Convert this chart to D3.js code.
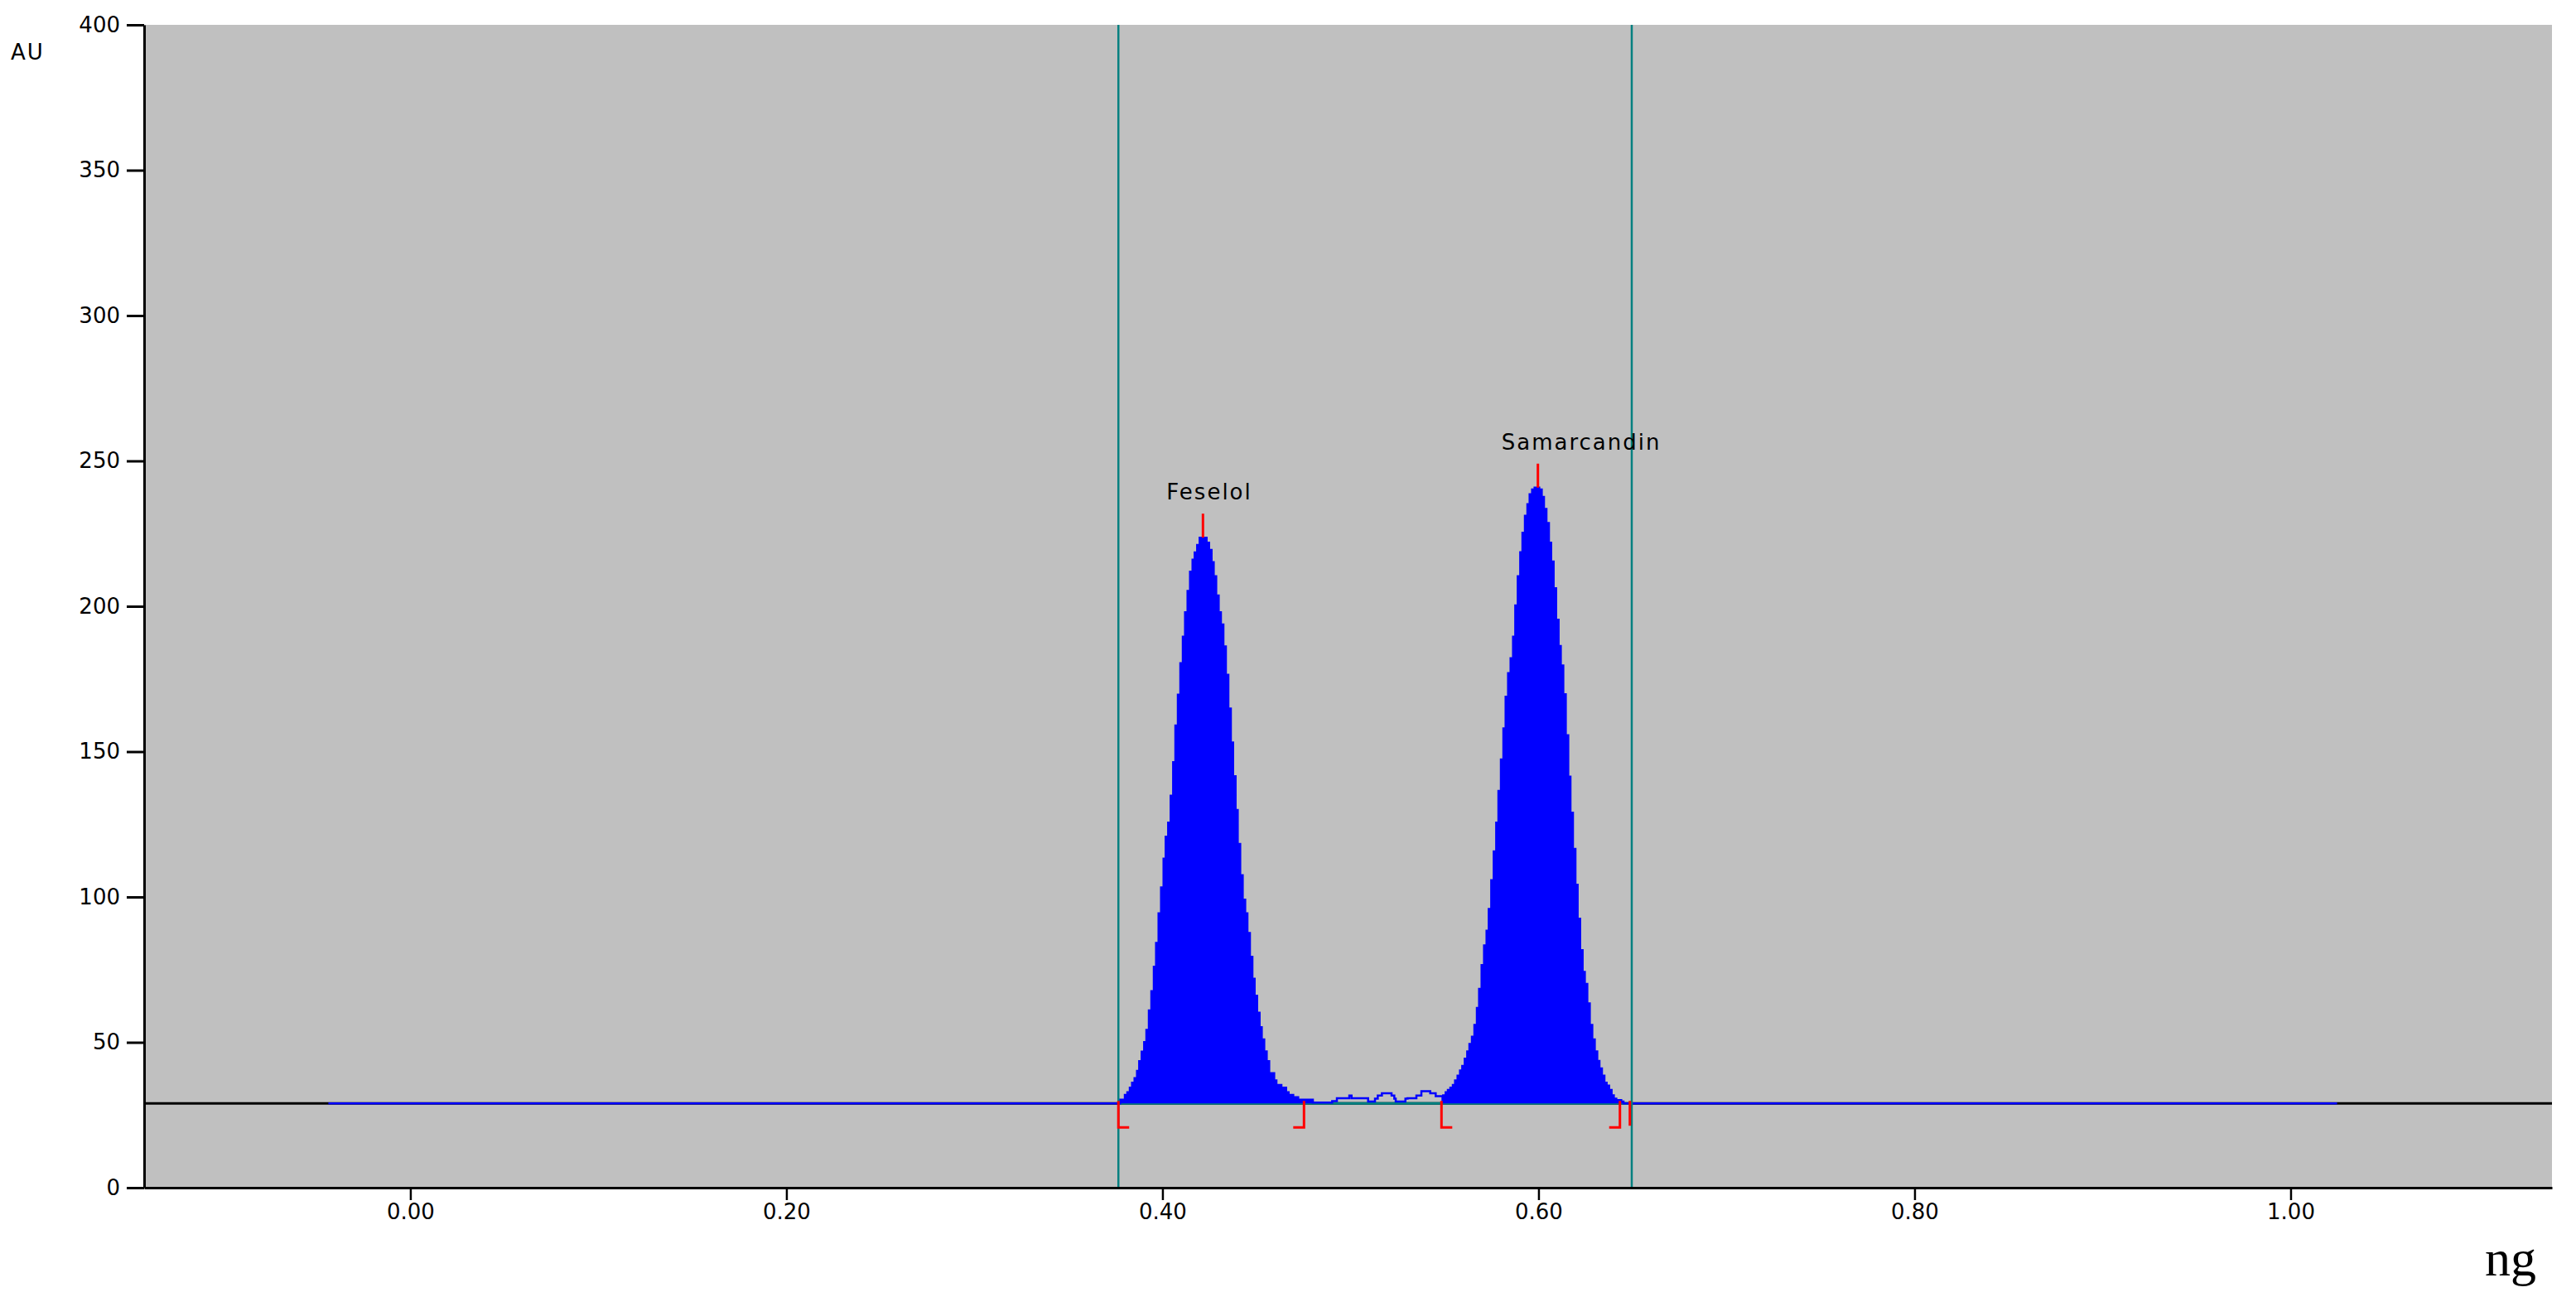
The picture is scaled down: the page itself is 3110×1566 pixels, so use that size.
<!DOCTYPE html>
<html>
<head>
<meta charset="utf-8">
<script src="https://cdn.jsdelivr.net/npm/d3@7"></script>
<style>
  html, body { margin: 0; padding: 0; background: #ffffff; }
  svg { display: block; }
</style>
</head>
<body>
<svg id="chart" width="3110" height="1566"></svg>
<script>
// ---------------- DATA ----------------
const yTicks = [0, 50, 100, 150, 200, 250, 300, 350, 400];
const xTicks = [0.00, 0.20, 0.40, 0.60, 0.80, 1.00];
const yLabel = "AU";
const xLabel = "ng";

const baselineAU = 29;
const trackBoundsNg = [0.37656, 0.64958];

// densitogram trace as steps: each entry = start position (ng) of a step and its level (AU)
const traceNg = [
  -0.0436,
  0.37748, 0.37999, 0.38131, 0.38263, 0.38382, 0.38514, 0.38646, 0.38761, 0.38893, 0.39025,
  0.39144, 0.39276, 0.39408, 0.39540, 0.39659, 0.39791, 0.39924, 0.40056, 0.40170, 0.40302,
  0.40435, 0.40567, 0.40686, 0.40818, 0.40950, 0.41082, 0.41201, 0.41333, 0.41466, 0.41598,
  0.41712, 0.41844, 0.41977, 0.42347, 0.42479, 0.42611, 0.42726, 0.42858, 0.42990, 0.43109,
  0.43241, 0.43373, 0.43505, 0.43637, 0.43756, 0.43889, 0.44003, 0.44135, 0.44268, 0.44400,
  0.44519, 0.44651, 0.44783, 0.44902, 0.45034, 0.45166, 0.45281, 0.45413, 0.45545, 0.45677,
  0.45942, 0.46061, 0.46325, 0.46576, 0.46708, 0.46955, 0.47219, 0.47999,
  0.49025, 0.49276, 0.49937, 0.50056, 0.50937, 0.51303, 0.51450, 0.51670, 0.52184, 0.52330,
  0.52405, 0.52921, 0.53035, 0.53505, 0.53770, 0.54241, 0.54531,
  0.54930, 0.55062, 0.55179, 0.55311, 0.55443, 0.55561, 0.55693, 0.55825, 0.55943, 0.56075,
  0.56207, 0.56324, 0.56457, 0.56589, 0.56721, 0.56839, 0.56971, 0.57103, 0.57235, 0.57353,
  0.57485, 0.57617, 0.57749, 0.57867, 0.57999, 0.58131, 0.58249, 0.58381, 0.58513, 0.58645,
  0.58763, 0.58895, 0.59027, 0.59144, 0.59276, 0.59408, 0.59526, 0.59658, 0.59790, 0.60040,
  0.60172, 0.60290, 0.60422, 0.60554, 0.60672, 0.60804, 0.60936, 0.61068, 0.61185, 0.61318,
  0.61450, 0.61582, 0.61699, 0.61831, 0.61964, 0.62081, 0.62213, 0.62346, 0.62463, 0.62595,
  0.62727, 0.62860, 0.62992, 0.63124, 0.63241, 0.63373, 0.63505, 0.63623, 0.63755, 0.63887,
  0.64005, 0.64137, 0.64401, 0.64519,
  1.0247
];
const traceAU = [
  29.0,
  30.3, 31.9, 32.8, 34.4, 36.1, 37.7, 40.2, 43.5, 46.8, 50.1,
  54.3, 61.0, 67.6, 76.0, 84.2, 94.4, 103.3, 113.2, 120.7, 125.6,
  134.8, 146.4, 159.0, 169.6, 180.4, 189.5, 197.9, 205.3, 211.9, 216.0,
  218.5, 221.1, 223.6, 221.9, 219.4, 215.2, 210.3, 203.7, 197.9, 193.7,
  186.2, 176.4, 164.8, 153.1, 141.5, 129.9, 118.2, 107.5, 99.1, 94.4,
  87.6, 79.4, 71.9, 66.0, 60.2, 55.2, 51.0, 46.9, 43.5, 39.4,
  36.9, 35.3, 34.4, 32.8, 31.9, 31.1, 30.3, 29.3,
  29.8, 30.8, 31.7, 30.8, 29.6, 30.6, 31.7, 32.5, 31.7, 30.6,
  29.6, 30.6, 30.8, 31.7, 33.2, 32.5, 31.5,
  31.8, 32.8, 33.6, 34.4, 35.3, 36.9, 38.5, 40.3, 41.9, 44.4,
  46.9, 49.4, 51.9, 56.0, 61.8, 68.4, 76.6, 83.3, 88.4, 95.9,
  105.8, 115.7, 125.6, 136.5, 147.3, 158.0, 168.9, 177.0, 182.1, 189.5,
  200.3, 210.3, 218.6, 225.3, 231.1, 235.1, 238.5, 240.2, 240.8, 240.2,
  237.6, 233.5, 228.6, 221.9, 215.4, 206.2, 195.4, 186.3, 179.6, 169.7,
  155.6, 141.4, 129.0, 116.5, 104.2, 92.5, 81.7, 74.2, 70.1, 63.4,
  56.0, 51.0, 46.9, 43.6, 41.0, 38.5, 36.1, 35.1, 33.6, 31.8,
  30.6, 30.1, 29.6, 29.0,
  29.0
];

const peakNames = ["Feselol", "Samarcandin"];
const peakApexNg = [0.42153, 0.59967];
const peakApexAU = [223.6, 240.8];
const peakStartNg = [0.37656, 0.54839];
const peakEndNg = [0.47527, 0.64329];
const peakFillEndNg = [0.47999, 0.64519];
const extraMarkNg = [0.64858];

// ---------------- LAYOUT ----------------
const plot = { left: 174, right: 3081, top: 30, bottom: 1434 };
const svg = d3.select("#chart");

const x = d3.scaleLinear().domain([-0.1416, 1.139]).range([plot.left, plot.right]);
const y = d3.scaleLinear().domain([0, 400]).range([plot.bottom, plot.top]);

const trace = traceNg.map((d, i) => ({ ng: d, au: traceAU[i] }));
function levelAt(ng) {
  let v = trace[0].au;
  for (const p of trace) { if (p.ng <= ng) v = p.au; else break; }
  return v;
}

svg.append("rect").attr("width", 3110).attr("height", 1566).attr("fill", "#ffffff");
svg.append("rect")
  .attr("x", plot.left).attr("y", plot.top)
  .attr("width", plot.right - plot.left).attr("height", plot.bottom - plot.top)
  .attr("fill", "#c0c0c0");

const by = y(baselineAU);

// full-width black baseline
svg.append("line")
  .attr("x1", plot.left).attr("x2", plot.right)
  .attr("y1", by).attr("y2", by)
  .attr("stroke", "#000").attr("stroke-width", 3);

// teal integration baseline inside track
svg.append("line")
  .attr("x1", x(trackBoundsNg[0])).attr("x2", x(trackBoundsNg[1]))
  .attr("y1", by).attr("y2", by)
  .attr("stroke", "#008080").attr("stroke-width", 3);

// peak fills
const area = d3.area()
  .x(d => x(d.ng))
  .y0(by)
  .y1(d => y(d.au))
  .curve(d3.curveStepAfter);

peakNames.forEach((name, i) => {
  const s = peakStartNg[i], e = peakFillEndNg[i];
  const pts = [{ ng: s, au: levelAt(s) }]
    .concat(trace.filter(d => d.ng > s && d.ng < e))
    .concat([{ ng: e, au: baselineAU }]);
  svg.append("path").datum(pts)
    .attr("d", area)
    .attr("fill", "#0000ff");
});

// trace line (stepped)
const line = d3.line().x(d => x(d.ng)).y(d => y(d.au)).curve(d3.curveStepAfter);
svg.append("path").datum(trace)
  .attr("d", line).attr("fill", "none")
  .attr("stroke", "#0000ff").attr("stroke-width", 2.5);

// teal track bounds
trackBoundsNg.forEach(v => {
  svg.append("line")
    .attr("x1", x(v)).attr("x2", x(v))
    .attr("y1", plot.top).attr("y2", plot.bottom)
    .attr("stroke", "#008080").attr("stroke-width", 2.5);
});

// red peak markers
const red = "#ff0000";
peakNames.forEach((name, i) => {
  const xs = x(peakStartNg[i]);
  svg.append("path")
    .attr("d", `M${xs},${by - 3} V${by + 29} H${xs + 13}`)
    .attr("fill", "none").attr("stroke", red).attr("stroke-width", 3);
  const xe = x(peakEndNg[i]);
  svg.append("path")
    .attr("d", `M${xe},${by - 3} V${by + 29} H${xe - 13}`)
    .attr("fill", "none").attr("stroke", red).attr("stroke-width", 3);
  const xa = x(peakApexNg[i]);
  svg.append("line")
    .attr("x1", xa).attr("x2", xa)
    .attr("y1", y(peakApexAU[i])).attr("y2", y(peakApexAU[i]) - 29)
    .attr("stroke", red).attr("stroke-width", 3);
  svg.append("text")
    .attr("x", xa - 44).attr("y", y(peakApexAU[i]) - 46)
    .attr("font-family", "DejaVu Sans, sans-serif")
    .attr("font-size", 26)
    .attr("letter-spacing", 2)
    .attr("fill", "#000")
    .text(name);
});
extraMarkNg.forEach(v => {
  svg.append("line")
    .attr("x1", x(v)).attr("x2", x(v))
    .attr("y1", by - 3).attr("y2", by + 27)
    .attr("stroke", red).attr("stroke-width", 3);
});

// axes
const yAxis = d3.axisLeft(y).tickValues(yTicks).tickSize(21).tickSizeOuter(0).tickPadding(8);
const gy = svg.append("g").attr("transform", `translate(${plot.left},0)`).call(yAxis);
gy.select(".domain").attr("stroke", "#000").attr("stroke-width", 3);
gy.selectAll(".tick line").attr("stroke", "#000").attr("stroke-width", 3);
gy.selectAll(".tick text")
  .attr("font-family", "DejaVu Sans, sans-serif").attr("font-size", 26).attr("fill", "#000");

const xAxis = d3.axisBottom(x).tickValues(xTicks).tickFormat(d3.format(".2f"))
  .tickSize(15).tickSizeOuter(0).tickPadding(5);
const gx = svg.append("g").attr("transform", `translate(0,${plot.bottom})`).call(xAxis);
gx.select(".domain").attr("stroke", "#000").attr("stroke-width", 3);
gx.selectAll(".tick line").attr("stroke", "#000").attr("stroke-width", 2.5);
gx.selectAll(".tick text")
  .attr("font-family", "DejaVu Sans, sans-serif").attr("font-size", 26).attr("fill", "#000");

// axis titles
svg.append("text").attr("x", 13).attr("y", 72)
  .attr("font-family", "DejaVu Sans, sans-serif").attr("font-size", 26)
  .attr("letter-spacing", 2).attr("fill", "#000").text(yLabel);
svg.append("text").attr("x", 3000).attr("y", 1540)
  .attr("font-family", "Liberation Serif, serif").attr("font-size", 62)
  .attr("fill", "#000").text(xLabel);
</script>
</body>
</html>
